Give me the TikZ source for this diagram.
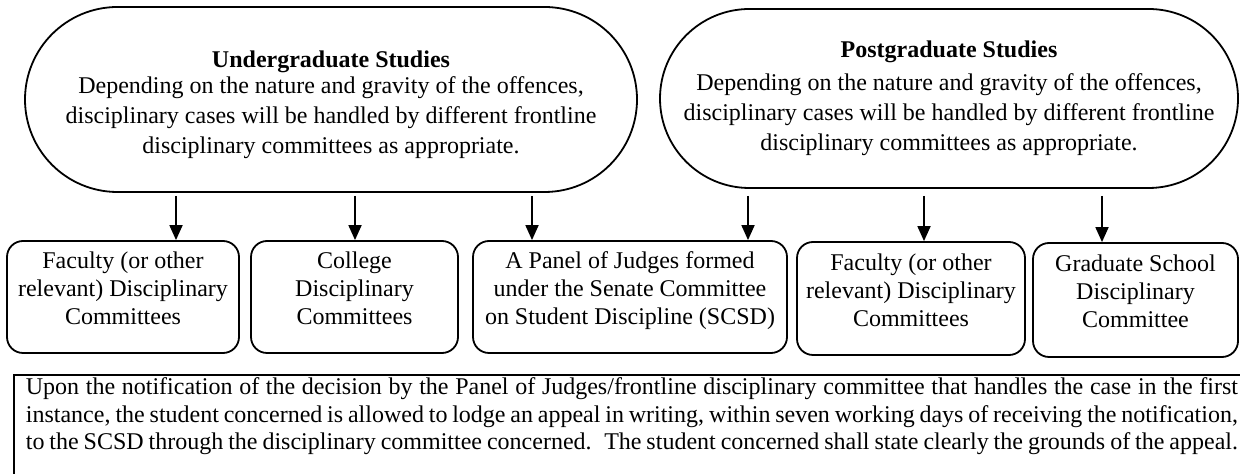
\documentclass[tikz,border=0pt]{standalone}
\usepackage{fontspec}
\setmainfont{Liberation Serif}
\usepackage{tikz}
\usetikzlibrary{arrows.meta,shapes.misc}

% three centred lines, padded so the middle one sits on the box centre
\newcommand{\threelines}[3]{\rule{0pt}{9pt}#1\\#2\\#3\rule[-9pt]{0pt}{9pt}}

\begin{document}
\begin{tikzpicture}[x=0.5pt,y=-0.5pt,line width=0.9pt,
  >={Triangle[length=7.5pt,width=6.5pt]},
  studies/.style={draw,rounded rectangle,align=center,inner sep=0pt,font=\fontsize{12}{15}\selectfont},
  committee/.style={draw,rounded corners=8pt,align=center,inner sep=0pt,font=\fontsize{12}{14}\selectfont}]
\useasboundingbox (0,0) rectangle (1240,474);

\node (ug) at (331,99.5) [studies,minimum width=306pt,minimum height=92.5pt]
  {\rule{0pt}{13.5pt}\textbf{Undergraduate Studies}\\[-2pt]
   Depending on the nature and gravity of the offences,\\
   disciplinary cases will be handled by different frontline\\
   disciplinary committees as appropriate.};
\node (pg) at (949,98.5) [studies,minimum width=289pt,minimum height=89.5pt]
  {\textbf{Postgraduate Studies}\\[1.5pt]
   Depending on the nature and gravity of the offences,\\
   disciplinary cases will be handled by different frontline\\
   disciplinary committees as appropriate.};

\node (fac) at (123,297) [committee,minimum width=116pt,minimum height=56pt]
  {\threelines{Faculty (or other}{relevant) Disciplinary}{Committees}};
\node (col) at (354.5,297) [committee,minimum width=103.5pt,minimum height=56pt]
  {\threelines{College}{Disciplinary}{Committees}};
\node (panel) at (630,297) [committee,minimum width=157pt,minimum height=56pt]
  {\threelines{A Panel of Judges formed}{under the Senate Committee}{on Student Discipline (SCSD)}};
\node (pgfac) at (911,298.5) [committee,minimum width=114pt,minimum height=56.5pt]
  {\threelines{Faculty (or other}{relevant) Disciplinary}{Committees}};
\node (gs) at (1135.5,300) [committee,minimum width=102.5pt,minimum height=57pt]
  {\threelines{Graduate School}{Disciplinary}{Committee}};

% where the arrows come down
\coordinate (a1) at (176,0);
\coordinate (a2) at (355,0);
\coordinate (a3) at (532,0);
\coordinate (a4) at (748,0);
\coordinate (a5) at (924,0);
\coordinate (a6) at (1102,0);

\draw[->,shorten <=1.5pt] (ug.south -| a1) -- (fac.north -| a1);
\draw[->,shorten <=1.5pt] (ug.south -| a2) -- (col.north -| a2);
\draw[->,shorten <=1.5pt] (ug.south -| a3) -- (panel.north -| a3);
\draw[->,shorten <=3.5pt] (pg.south -| a4) -- (panel.north -| a4);
\draw[->,shorten <=3.5pt] (pg.south -| a5) -- (pgfac.north -| a5);
\draw[->,shorten <=3.5pt] (pg.south -| a6) -- (gs.north -| a6);

\node (appeal) at (13,374) [draw,anchor=north west,inner xsep=6pt,inner ysep=1pt,
  text width=606pt,align=justify,font=\fontsize{12}{13.75}\selectfont]
  {\parfillskip=0pt\rule{0pt}{9pt}Upon the notification of the decision by the Panel of Judges/frontline disciplinary committee that handles the case in the first\linebreak
   instance, the student concerned is allowed to lodge an appeal in writing, within seven working days of receiving the notification,\linebreak
   to the SCSD through the disciplinary committee concerned.~ The student concerned shall state clearly the grounds of the appeal.\rule[-14pt]{0pt}{14pt}};
\end{tikzpicture}
\end{document}
